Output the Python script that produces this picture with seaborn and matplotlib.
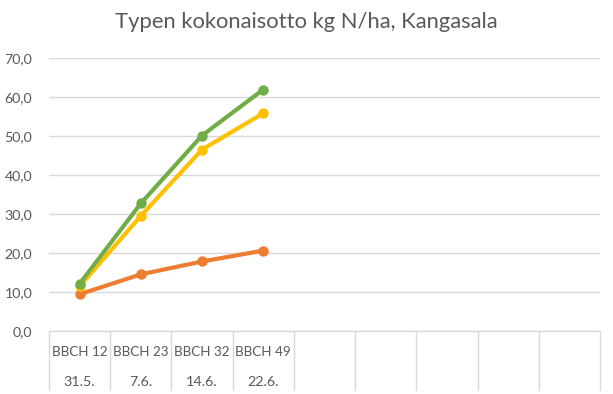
import matplotlib
matplotlib.use("Agg")
import matplotlib.pyplot as plt
import matplotlib.transforms as mtransforms
from matplotlib.ticker import FuncFormatter
import seaborn as sns
import pandas as pd

# ---- data ----
stages = ["BBCH 12", "BBCH 23", "BBCH 32", "BBCH 49", "", "", "", "", ""]
dates = ["31.5.", "7.6.", "14.6.", "22.6.", "", "", "", "", ""]
series_green = [12.2, 32.8, 50.2, 62.0]
series_yellow = [11.5, 29.6, 46.6, 55.9]
series_orange = [9.5, 14.6, 17.9, 20.7]
title = "Typen kokonaisotto kg N/ha, Kangasala"

sns.set_theme(style="white")
plt.rcParams["font.family"] = ["Lato", "DejaVu Sans"]

rows = []
for name, vals in [("orange", series_orange), ("yellow", series_yellow), ("green", series_green)]:
    for i, v in enumerate(vals):
        rows.append({"series": name, "x": i, "value": v})
df = pd.DataFrame(rows)
palette = {"orange": "#ED7D31", "yellow": "#FFC000", "green": "#70AD47"}

fig = plt.figure(figsize=(6.13, 3.94), dpi=100)
ax = fig.add_axes([49 / 613, 62.7 / 394, 551 / 613, 273 / 394])

sns.lineplot(data=df, x="x", y="value", hue="series", palette=palette,
             marker="o", markersize=7.5, markeredgewidth=0, linewidth=3.0,
             legend=False, ax=ax, sort=False)

ax.set_xlim(-0.5, len(stages) - 0.5)
ax.set_ylim(0, 70)
ax.set_yticks(range(0, 71, 10))
ax.yaxis.set_major_formatter(FuncFormatter(lambda v, p: f"{v:.1f}".replace(".", ",")))
ax.tick_params(axis="y", length=0, pad=12, labelsize=10.2, labelcolor="#595959")
ax.set_xticks([])
ax.set_xlabel("")
ax.set_ylabel("")
ax.grid(axis="y", color="#D9D9D9", linewidth=1)
ax.set_axisbelow(True)
for s in ["left", "right", "top"]:
    ax.spines[s].set_visible(False)
ax.spines["bottom"].set_color("#D9D9D9")
ax.spines["bottom"].set_linewidth(1)

trans = mtransforms.blended_transform_factory(ax.transData, ax.transAxes)
ax_h = 273 / 394 * 3.94 * 100  # axes height in px
bottom_frac = -59 / ax_h
for b in range(len(stages) + 1):
    ax.plot([b - 0.5, b - 0.5], [0, bottom_frac], transform=trans, color="#D9D9D9",
            linewidth=1, clip_on=False)
for i, (s, d) in enumerate(zip(stages, dates)):
    ax.text(i, -21 / ax_h, s, transform=trans, ha="center", va="center",
            fontsize=9.7, color="#595959")
    ax.text(i, -51 / ax_h, d, transform=trans, ha="center", va="center",
            fontsize=10.3, color="#595959")

fig.text(306 / 613, 1 - 22 / 394, title, ha="center", va="center",
         fontsize=15.8, color="#595959")

fig.savefig("out.png", dpi=100, facecolor="white")
